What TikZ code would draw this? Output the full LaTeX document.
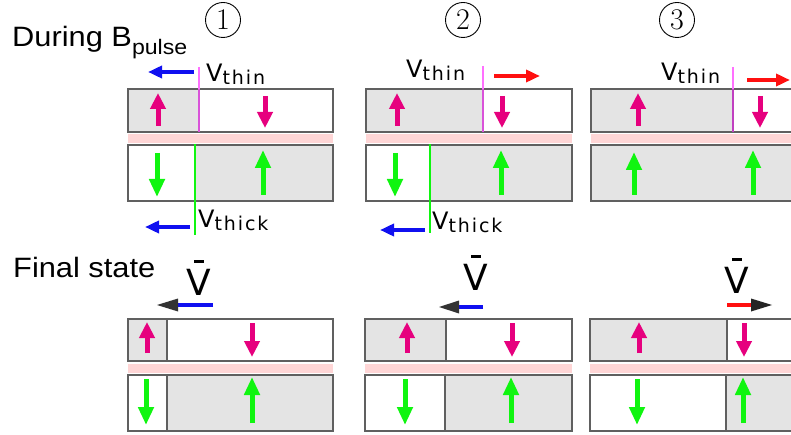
\documentclass[tikz,border=0pt]{standalone}
\usepackage{fontspec}
\newfontfamily\headfont[FakeStretch=1.1]{Liberation Sans}
\newfontfamily\velfont{DejaVu Sans}
\newfontfamily\subfont[LetterSpace=10]{DejaVu Sans}
\usetikzlibrary{arrows.meta}

\definecolor{domgray}{HTML}{E4E4E4}
\definecolor{framegray}{HTML}{606060}
\definecolor{spacerpink}{HTML}{FFD6D6}
\definecolor{spinpink}{HTML}{E6007E}
\definecolor{spingreen}{HTML}{10F510}
\definecolor{wallpink}{HTML}{FF70FF}
\definecolor{wallpurple}{HTML}{C040C0}
\definecolor{velblue}{HTML}{1010F0}
\definecolor{velred}{HTML}{FF1010}
\definecolor{headgray}{HTML}{333333}

\newcommand{\vel}[1]{{\velfont\fontsize{24}{24}\selectfont V}\raisebox{-3pt}{\subfont\fontsize{19}{19}\selectfont #1}}
\newcommand{\vmean}{\vbox{\offinterlineskip\halign{\hfil##\hfil\cr\rule{10pt}{3pt}\cr\noalign{\kern6pt}V\cr}}}

\begin{document}
\begin{tikzpicture}[x=1pt, y=-1pt,
    magfilm/.style   = {draw=framegray, line width=1.4pt},
    graydom/.style   = {fill=domgray},
    spacerfill/.style= {fill=spacerpink},
    magspin/.style   = {spinpink, line width=5pt, -{Triangle[width=15pt,length=16pt]}},
    grnspin/.style   = {spingreen, line width=5pt, -{Triangle[width=15pt,length=18pt]}},
    velarrow/.style  = {line width=4pt, -{Triangle[width=12pt,length=14pt]}},
    txt/.style       = {inner sep=0pt, anchor=base west},
    numcirc/.style   = {circle, draw, line width=0.9pt, minimum size=35pt, inner sep=0pt,
                        font=\fontsize{30}{30}\selectfont},
    meanv/.style     = {inner sep=0pt, anchor=base, font=\velfont\fontsize{36}{36}\selectfont}]

    \useasboundingbox (0,0) rectangle (791,435);
    \clip (0,0) rectangle (791,435);

    % headings and step numbers
    \node[txt, font=\headfont\fontsize{28}{28}\selectfont] (during) at (12,47)
        {During B\raisebox{-8pt}{\fontsize{21}{21}\selectfont pulse}};
    \node[txt, font=\headfont\fontsize{28}{28}\selectfont] (final) at (13,277) {Final state};
    \node[numcirc] (step1) at (223,20) {1};
    \node[numcirc] (step2) at (463,20) {2};
    \node[numcirc] (step3) at (677,20) {3};

    % ---- during the pulse: domains ----
    \fill[graydom] (128,89) rectangle (199,132);
    \fill[graydom] (195,145) rectangle (333,201);
    \fill[graydom] (366,89) rectangle (483,132);
    \fill[graydom] (430,145) rectangle (572,201);
    \fill[graydom] (591,89) rectangle (733,132);
    \fill[graydom] (591,145) rectangle (800,201);
    \foreach \xa/\xb in {128/333, 366/572, 591/800} {
        \draw[magfilm] (\xa,89) rectangle (\xb,132);
        \fill[spacerfill] (\xa,134) rectangle (\xb,143);
        \draw[magfilm] (\xa,145) rectangle (\xb,201);
    }

    % domain walls
    \draw[wallpink, line width=1.6pt] (199,67) -- (199,89);
    \draw[wallpurple!60!wallpink, line width=1.6pt] (199,89) -- (199,132);
    \draw[spingreen, line width=2pt] (195,144) -- (195,235);
    \draw[wallpink, line width=1.6pt] (483,66) -- (483,89);
    \draw[wallpurple!60!wallpink, line width=1.6pt] (483,89) -- (483,132);
    \draw[spingreen, line width=2pt] (430,144) -- (430,233);
    \draw[wallpink, line width=1.6pt] (733,67) -- (733,89);
    \draw[wallpurple, line width=1.6pt] (733,89) -- (733,132);

    % wall velocities
    \draw[velarrow, velblue] (194,72) -- (148,72);
    \draw[velarrow, velblue] (190,227) -- (145,227);
    \draw[velarrow, velred] (494,76) -- (540,76);
    \draw[velarrow, velblue] (425,230) -- (380,230);
    \draw[velarrow, velred] (747,80) -- (790,80);
    \node[txt] (thin1) at (206,82) {\vel{thin}};
    \node[txt] (thick1) at (198,228) {\vel{thick}};
    \node[txt] (thin2) at (406,78) {\vel{thin}};
    \node[txt] (thick2) at (432,230) {\vel{thick}};
    \node[txt] (thin3) at (661,81) {\vel{thin}};

    % spins
    \draw[magspin] (158,126) -- (158,93);
    \draw[magspin] (265,96) -- (265,128);
    \draw[grnspin] (157,153) -- (157,197);
    \draw[grnspin] (263,195) -- (263,150);
    \draw[magspin] (397,126) -- (397,93);
    \draw[magspin] (502,96) -- (502,128);
    \draw[grnspin] (395,153) -- (395,197);
    \draw[grnspin] (501,195) -- (501,150);
    \draw[magspin] (638,126) -- (638,93);
    \draw[magspin] (760,96) -- (760,128);
    \draw[grnspin] (634,195) -- (634,152);
    \draw[grnspin] (753,195) -- (753,150);

    % ---- final state: domains ----
    \fill[graydom] (128,319) rectangle (167,361);
    \fill[graydom] (167,375) rectangle (333,431);
    \fill[graydom] (365,319) rectangle (446,361);
    \fill[graydom] (446,375) rectangle (572,431);
    \fill[graydom] (590,319) rectangle (727,361);
    \fill[graydom] (726,375) rectangle (800,431);
    \foreach \xa/\xb/\wa/\wb in {128/333/167/167, 365/572/446/445, 590/800/727/726} {
        \draw[magfilm] (\xa,319) rectangle (\xb,361);
        \draw[magfilm] (\wa,319) -- (\wa,361);
        \fill[spacerfill] (\xa,364) rectangle (\xb,373);
        \draw[magfilm] (\xa,375) rectangle (\xb,431);
        \draw[magfilm] (\wb,375) -- (\wb,431);
    }

    % mean velocities
    \draw[velblue, line width=4pt] (213,305) -- (176,305);
    \fill[headgray] (178,298.5) -- (157,305) -- (178,311.5) -- cycle;
    \draw[velblue, line width=4pt] (483,307) -- (457,307);
    \fill[headgray] (459,300.5) -- (439,307) -- (459,313.5) -- cycle;
    \draw[velred, line width=4pt] (727,305) -- (753,305);
    \fill[headgray!70!black] (751,298.5) -- (772,305) -- (751,311.5) -- cycle;
    \node[meanv] (mean1) at (199,295) {\vmean};
    \node[meanv] (mean2) at (476,290) {\vmean};
    \node[meanv] (mean3) at (737,293) {\vmean};

    % spins
    \draw[magspin] (147,353) -- (147,322);
    \draw[magspin] (252,323) -- (252,357);
    \draw[grnspin] (146,379) -- (146,425);
    \draw[grnspin] (252,423) -- (252,377);
    \draw[magspin] (407,353) -- (407,322);
    \draw[magspin] (512,323) -- (512,357);
    \draw[grnspin] (405,379) -- (405,425);
    \draw[grnspin] (511,423) -- (511,377);
    \draw[magspin] (639,353) -- (639,322);
    \draw[magspin] (744,323) -- (744,357);
    \draw[grnspin] (637,379) -- (637,425);
    \draw[grnspin] (743,423) -- (743,377);
\end{tikzpicture}
\end{document}
